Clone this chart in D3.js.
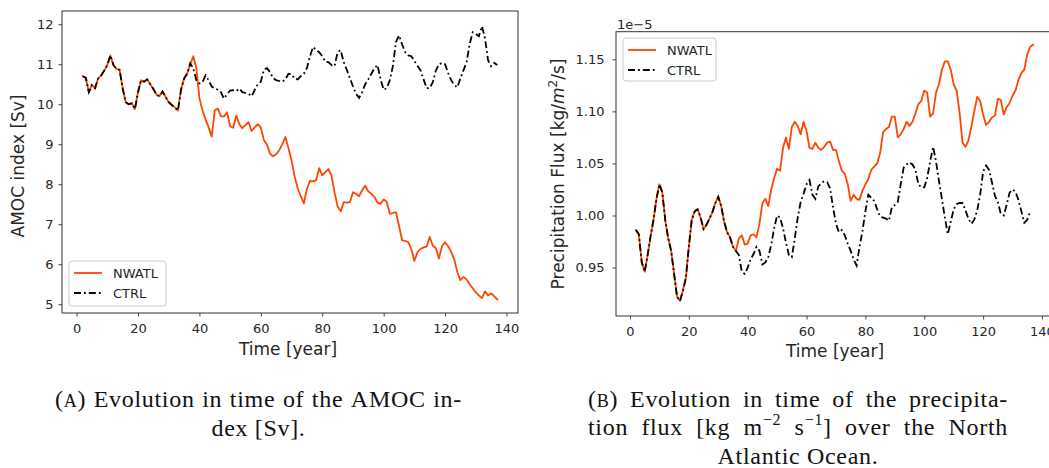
<!DOCTYPE html>
<html><head><meta charset="utf-8">
<script src="https://cdn.jsdelivr.net/npm/d3@7"></script>
<style>body{margin:0;background:#fff;overflow:hidden} svg{display:block}</style>
</head><body>
<svg id="c" width="1049" height="468"></svg>
<script>
// ---------------- DATA ----------------
const startYear = 2;
const xTickValues = [0, 20, 40, 60, 80, 100, 120, 140];
const amocTickValues = [5, 6, 7, 8, 9, 10, 11, 12];
const precipTickValues = [0.95, 1.00, 1.05, 1.10, 1.15];
const seriesNames = ["NWATL", "CTRL"];

// AMOC index [Sv], years 2..137
const amocNWATL = [10.70,10.66,10.30,10.48,10.40,10.64,10.72,10.84,10.98,11.22,10.98,10.88,10.86,10.40,10.05,10.00,10.02,9.88,10.30,10.60,10.56,10.62,10.50,10.38,10.24,10.20,10.32,10.18,10.05,9.98,9.92,9.84,10.36,10.64,10.76,
 11.00,11.20,10.90,10.15,9.85,9.62,9.42,9.19,9.85,9.89,9.70,9.69,9.80,9.45,9.41,9.72,9.50,9.40,9.48,9.55,9.33,9.42,9.50,9.42,9.10,9.00,8.76,8.70,8.75,8.85,9.00,9.18,8.90,8.60,8.20,7.90,7.70,7.52,7.88,8.08,8.07,8.10,8.40,8.22,8.30,8.38,8.22,7.80,7.45,7.32,7.55,7.54,7.55,7.80,7.76,7.70,7.85,7.96,7.82,7.76,7.68,7.54,7.51,7.62,7.56,7.26,7.28,7.30,6.96,6.60,6.58,6.55,6.38,6.08,6.30,6.38,6.42,6.44,6.68,6.46,6.40,6.14,6.45,6.55,6.45,6.30,6.12,5.80,5.60,5.68,5.62,5.50,5.40,5.30,5.22,5.15,5.32,5.22,5.27,5.20,5.12];
const amocCTRL = [10.70,10.66,10.30,10.48,10.40,10.64,10.72,10.84,10.98,11.22,10.98,10.88,10.86,10.40,10.05,10.00,10.02,9.88,10.30,10.60,10.56,10.62,10.50,10.38,10.24,10.20,10.32,10.18,10.05,9.98,9.92,9.84,10.36,10.64,10.76,
 11.02,10.90,10.60,10.52,10.55,10.72,10.60,10.44,10.40,10.36,10.30,10.14,10.25,10.34,10.35,10.33,10.39,10.30,10.28,10.26,10.20,10.36,10.50,10.56,10.86,10.90,10.80,10.65,10.60,10.58,10.56,10.62,10.76,10.75,10.64,10.62,10.70,10.76,10.90,11.20,11.43,11.36,11.30,11.20,11.06,11.05,10.98,10.95,11.30,11.35,11.05,10.86,10.65,10.45,10.26,10.16,10.30,10.50,10.62,10.76,10.90,10.98,10.62,10.36,10.40,10.60,10.95,11.55,11.72,11.50,11.30,11.22,11.20,11.08,10.96,10.85,10.62,10.40,10.40,10.55,10.84,11.00,11.03,11.00,10.78,10.60,10.48,10.42,10.65,10.85,11.05,11.50,11.80,11.76,11.70,11.95,11.65,11.10,10.95,11.03,10.98];

// Precipitation flux [1e-5 kg/m2/s], years 2..137
const precipNWATL = [0.986,0.982,0.955,0.946,0.962,0.980,0.996,1.016,1.030,1.022,0.995,0.978,0.966,0.944,0.922,0.918,0.928,0.940,0.970,0.996,1.004,1.006,0.998,0.987,0.991,0.997,1.003,1.012,1.018,1.009,0.994,0.984,0.979,0.970,0.966,
 0.978,0.981,0.972,0.973,0.981,0.982,0.979,0.992,1.012,1.016,1.009,1.025,1.036,1.045,1.043,1.065,1.075,1.064,1.085,1.090,1.086,1.078,1.090,1.081,1.065,1.064,1.070,1.065,1.063,1.066,1.070,1.071,1.063,1.063,1.052,1.043,1.040,1.030,1.014,1.020,1.016,1.015,1.024,1.030,1.035,1.044,1.047,1.050,1.060,1.080,1.083,1.085,1.095,1.095,1.075,1.078,1.083,1.090,1.086,1.090,1.098,1.107,1.110,1.120,1.118,1.095,1.098,1.118,1.126,1.140,1.148,1.148,1.140,1.126,1.120,1.099,1.070,1.066,1.072,1.085,1.100,1.114,1.110,1.097,1.087,1.090,1.094,1.096,1.112,1.111,1.097,1.104,1.108,1.115,1.120,1.130,1.137,1.140,1.155,1.162,1.164];
const precipCTRL = [0.986,0.982,0.955,0.946,0.962,0.980,0.996,1.016,1.030,1.022,0.995,0.978,0.966,0.944,0.922,0.918,0.928,0.940,0.970,0.996,1.004,1.006,0.998,0.987,0.991,0.997,1.003,1.012,1.018,1.009,0.994,0.984,0.979,0.970,0.966,
 0.962,0.946,0.944,0.950,0.958,0.963,0.970,0.966,0.953,0.955,0.960,0.972,0.988,1.000,0.998,0.988,0.974,0.962,0.960,0.978,0.998,1.013,1.021,1.030,1.034,1.020,1.016,1.028,1.031,1.033,1.032,1.026,1.008,0.992,0.984,0.986,0.981,0.973,0.966,0.958,0.952,0.970,0.985,1.004,1.020,1.017,1.014,1.006,0.999,0.998,0.997,0.995,1.008,1.010,1.013,1.030,1.046,1.049,1.051,1.049,1.044,1.030,1.027,1.027,1.036,1.052,1.066,1.052,1.033,1.016,0.998,0.982,0.994,1.006,1.011,1.012,1.012,1.005,0.997,0.992,0.996,1.005,1.020,1.042,1.048,1.044,1.032,1.019,1.013,1.002,1.000,1.010,1.022,1.025,1.023,1.015,1.004,0.993,0.996,1.004];

// ---------------- DRAW ----------------
const svg = d3.select("#c");
const sans = "'DejaVu Sans', sans-serif";
const serif = "'Liberation Serif', 'DejaVu Serif', serif";
const orange = "#ff4500";
const axisColor = "#333";
const textColor = "#262626";

function panel(o) {
  const x = d3.scaleLinear().domain(o.xDomain).range([o.left, o.right]);
  const y = d3.scaleLinear().domain(o.yDomain).range([o.bottom, o.top]);
  const g = svg.append("g");

  const line = d3.line().x((d, i) => x(startYear + i)).y(d => y(d));
  g.append("path").datum(o.nwatl).attr("d", line)
    .attr("fill", "none").attr("stroke", orange).attr("stroke-width", 1.8)
    .attr("stroke-linejoin", "round").attr("stroke-linecap", "square");
  g.append("path").datum(o.ctrl).attr("d", line)
    .attr("fill", "none").attr("stroke", "#000").attr("stroke-width", 1.8)
    .attr("stroke-dasharray", "7,3,1.8,3");

  // axes
  const xAxis = d3.axisBottom(x).tickValues(xTickValues).tickFormat(d3.format("d")).tickSize(3.5).tickPadding(4);
  const yAxis = d3.axisLeft(y).tickValues(o.yTicks).tickFormat(o.yFormat).tickSize(3.5).tickPadding(o.yPad);
  const gx = g.append("g").attr("transform", `translate(0,${o.bottom})`).call(xAxis);
  const gy = g.append("g").attr("transform", `translate(${o.left},0)`).call(yAxis);
  [gx, gy].forEach(a => {
    a.select(".domain").remove();
    a.selectAll(".tick line").attr("stroke", axisColor).attr("stroke-width", 0.9);
    a.selectAll(".tick text").attr("fill", textColor).attr("font-family", sans).attr("font-size", 13);
  });
  gx.selectAll(".tick text").attr("dy", null).attr("y", 20);
  // frame
  g.append("rect").attr("x", o.left).attr("y", o.top)
    .attr("width", o.right - o.left).attr("height", o.bottom - o.top)
    .attr("fill", "none").attr("stroke", axisColor).attr("stroke-width", 1);

  // labels
  g.append("text").attr("x", o.xLabelX).attr("y", o.xLabelY).attr("text-anchor", "middle")
    .attr("font-family", sans).attr("font-size", 17).attr("fill", textColor).text("Time [year]");
  const yl = g.append("text").attr("transform", `translate(${o.yLabelX},${o.yLabelY}) rotate(-90)`)
    .attr("text-anchor", "middle").attr("font-family", sans).attr("font-size", 17).attr("fill", textColor);
  o.yLabel.forEach(s => {
    const t = yl.append("tspan").text(s.t);
    if (s.italic) t.attr("font-style", "italic");
    if (s.fs) t.attr("font-size", s.fs);
    if (s.dy) t.attr("dy", s.dy);
  });

  // legend
  const L = o.legend;
  g.append("rect").attr("x", L.x).attr("y", L.y).attr("width", L.w).attr("height", L.h)
    .attr("rx", 3).attr("fill", "#fff").attr("fill-opacity", 0.8)
    .attr("stroke", "#cccccc").attr("stroke-width", 1);
  seriesNames.forEach((name, i) => {
    const yy = L.y + 12 + i * 20;
    g.append("line").attr("x1", L.x + 5).attr("x2", L.x + 33).attr("y1", yy).attr("y2", yy)
      .attr("stroke", i === 0 ? orange : "#000").attr("stroke-width", 1.8)
      .attr("stroke-dasharray", i === 0 ? null : "7,3,1.8,3");
    g.append("text").attr("x", L.x + 44).attr("y", yy + 4.5).attr("font-family", sans)
      .attr("font-size", 13).attr("fill", textColor).text(name);
  });
  return g;
}

panel({
  left: 62, right: 518, top: 11, bottom: 313,
  xDomain: [-4.75, 143.75], yDomain: [4.78, 12.33],
  nwatl: amocNWATL, ctrl: amocCTRL,
  yTicks: amocTickValues, yFormat: d3.format("d"), yPad: 5,
  xLabelX: 288, xLabelY: 355,
  yLabelX: 24, yLabelY: 166,
  yLabel: [{t: "AMOC index [Sv]"}],
  legend: {x: 69, y: 261, w: 97, h: 45}
});

panel({
  left: 616, right: 1053, top: 31.7, bottom: 316,
  xDomain: [-4.75, 143.75], yDomain: [0.9035, 1.1765],
  nwatl: precipNWATL, ctrl: precipCTRL,
  yTicks: precipTickValues, yFormat: d3.format(".2f"), yPad: 8,
  xLabelX: 835, xLabelY: 357,
  yLabelX: 564, yLabelY: 174,
  yLabel: [{t: "Precipitation Flux [kg/"}, {t: "m", italic: true}, {t: "2", fs: 12, dy: -7}, {t: "/s]", dy: 7}],
  legend: {x: 623, y: 38, w: 93, h: 43}
});

svg.append("text").attr("x", 617).attr("y", 28.5).attr("font-family", sans).attr("font-size", 13)
  .attr("fill", textColor).text("1e\u22125");

// ---------------- CAPTIONS ----------------
const capSize = 24;
function word(segs) {
  const t = svg.append("text").attr("font-family", serif).attr("font-size", capSize)
    .attr("letter-spacing", 0.7).attr("fill", "#111");
  segs.forEach(s => {
    const ts = t.append("tspan").text(s.t);
    if (s.fs) ts.attr("font-size", s.fs);
    if (s.dy) ts.attr("dy", s.dy);
  });
  return t;
}
function setLine(words, x0, x1, y, justify) {
  const nodes = words.map(w => word(typeof w === "string" ? [{t: w}] : w));
  const widths = nodes.map(n => n.node().getBBox().width);
  const total = d3.sum(widths);
  let gap, start;
  if (justify) { gap = (x1 - x0 - total) / (nodes.length - 1); start = x0; }
  else { gap = capSize * 0.27; start = (x0 + x1) / 2 - (total + gap * (nodes.length - 1)) / 2; }
  let cx = start;
  nodes.forEach((n, i) => { n.attr("x", cx).attr("y", y); cx += widths[i] + gap; });
}
const labA = [{t: "("}, {t: "A", fs: 18}, {t: ")"}];
const labB = [{t: "("}, {t: "B", fs: 18}, {t: ")"}];
setLine([labA, "Evolution", "in", "time", "of", "the", "AMOC", "in-"], 55, 462, 407, true);
setLine(["dex", "[Sv]."], 55, 462, 436, false);
setLine([labB, "Evolution", "in", "time", "of", "the", "precipita-"], 588, 1008, 407, true);
setLine(["tion", "flux", "[kg",
  [{t: "m"}, {t: "\u22122", fs: 16, dy: -10}],
  [{t: "s"}, {t: "\u22121", fs: 16, dy: -10}, {t: "]", dy: 10}],
  "over", "the", "North"], 588, 1008, 435, true);
setLine(["Atlantic", "Ocean."], 588, 1008, 464, false);
</script>
</body></html>
